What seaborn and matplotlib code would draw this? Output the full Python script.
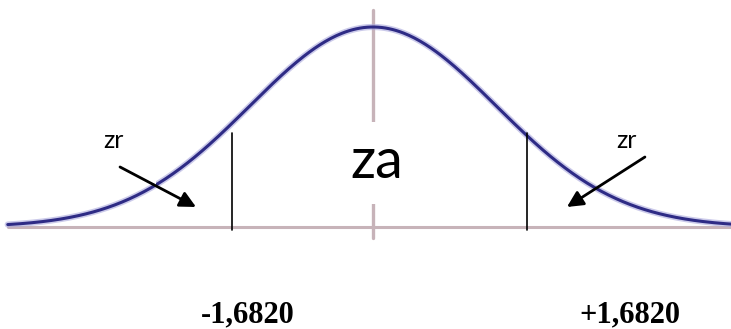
import numpy as np
import pandas as pd
import seaborn as sns
import matplotlib.pyplot as plt

# z grid of the bell curve (standard normal shape)
z_values = np.linspace(-2.97, 2.92, 400)
density = np.exp(-z_values ** 2 / 2) / np.sqrt(2 * np.pi)

# critical values and their positions on the drawing
cut_positions = [-1.15, 1.25]
cut_labels = ['-1,6820', '+1,6820']
label_x = [-1.02, 2.09]
region_tail = 'zr'
region_accept = 'za'


def main():
    sns.set_theme(style='white')
    plt.rcParams['font.family'] = ['Lato', 'DejaVu Sans']
    plt.rcParams['text.color'] = 'black'

    fig = plt.figure(figsize=(7.31, 3.29), dpi=100)
    ax = fig.add_axes([0, 0, 1, 1])
    ax.set_xlim(-3.033, 2.911)
    ax.set_ylim(-0.2035, 0.4528)
    ax.axis('off')

    curve = pd.DataFrame({'z': z_values, 'density': density})

    # axes of the sketch
    ax.plot([-2.97, 2.911], [0, 0], color='#c7b3b9', lw=2.2, zorder=1)
    ax.plot([0, 0], [-0.022, 0.433], color='#c7b3b9', lw=2.4, zorder=1)

    # soft halo then the curve itself
    sns.lineplot(data=curve, x='z', y='density', ax=ax, color='#a9a7dc',
                 lw=4.5, alpha=0.6, zorder=2)
    sns.lineplot(data=curve, x='z', y='density', ax=ax, color='#2e2b85',
                 lw=2.2, zorder=2)

    # critical value markers
    for c in cut_positions:
        ax.plot([c, c], [-0.006, 0.188], color='black', lw=1.2, zorder=4)

    # labels
    ax.text(0.033, 0.1277, region_accept, fontsize=40, ha='center', va='center',
            zorder=3, bbox=dict(facecolor='white', edgecolor='none', pad=11))
    ax.text(-2.114, 0.1735, region_tail, fontsize=18, ha='center', va='center',
            zorder=3, bbox=dict(facecolor='white', edgecolor='none', pad=24))
    ax.text(2.057, 0.1735, region_tail, fontsize=18, ha='center', va='center',
            zorder=3)

    arrow = dict(arrowstyle='-|>,head_length=0.8,head_width=0.4', color='black',
                 lw=2, shrinkA=0, shrinkB=0)
    ax.annotate('', xy=(-1.439, 0.0399), xytext=(-2.057, 0.1197),
                arrowprops=arrow, zorder=5)
    ax.annotate('', xy=(1.577, 0.0399), xytext=(2.211, 0.1396),
                arrowprops=arrow, zorder=5)

    for x, lab in zip(label_x, cut_labels):
        ax.text(x, -0.1755, lab, fontsize=22, fontweight='bold',
                family=['Liberation Serif', 'DejaVu Serif'],
                ha='center', va='center')

    fig.savefig('out.png', dpi=100)


if __name__ == '__main__':
    main()
